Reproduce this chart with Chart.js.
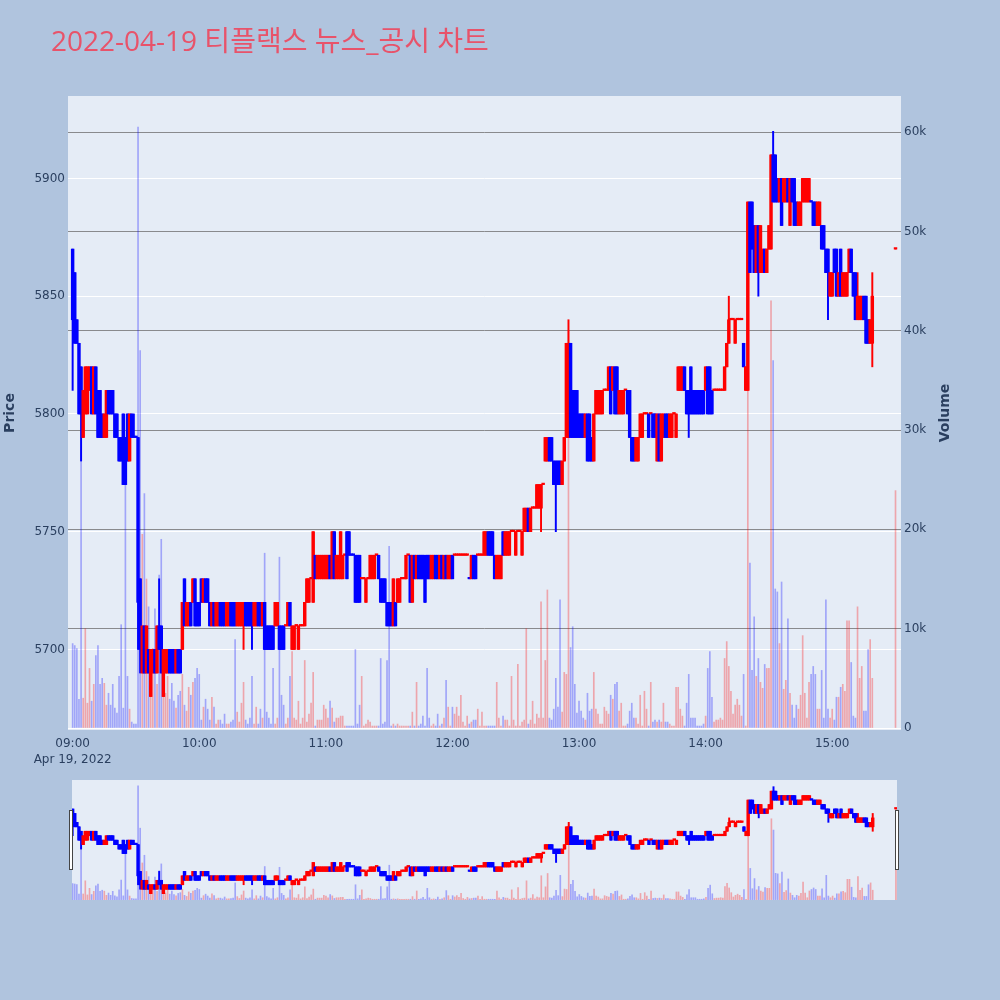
<!DOCTYPE html>
<html>
<head>
<meta charset="utf-8">
<title>티플랙스 뉴스_공시 차트</title>
<script src="https://cdn.jsdelivr.net/npm/chart.js@4.4.1/dist/chart.umd.min.js"></script>
<style>
  html, body { margin: 0; padding: 0; }
  body { width: 1000px; height: 1000px; background: #b0c4de; position: relative; overflow: hidden; }
  #mainChart { position: absolute; left: 0; top: 0; }
  #sliderChart { position: absolute; left: 72px; top: 780px; }
  .grip { position: absolute; top: 810px; width: 2px; height: 58px; background: #fff; border: 1px solid #444; }
</style>
</head>
<body>
<canvas id="mainChart" width="1000" height="770"></canvas>
<canvas id="sliderChart" width="825" height="120"></canvas>
<div class="grip" style="left:69px"></div>
<div class="grip" style="left:895px"></div>
<script>
const titleText = '2022-04-19 티플랙스 뉴스_공시 차트';
const dateLabel = 'Apr 19, 2022';
const tickMinutes = [0, 60, 120, 180, 240, 300, 360];
const timeLabels = ['09:00', '10:00', '11:00', '12:00', '13:00', '14:00', '15:00'];
const priceTicks = [5700, 5750, 5800, 5850, 5900];
const volumeTicks = [0, 10000, 20000, 30000, 40000, 50000, 60000];
const volumeLabels = ['0', '10k', '20k', '30k', '40k', '50k', '60k'];

// one entry per minute from 09:00; 15:20-15:29 no trades, last entry = 15:30 close
const opens = [
  5870,5860,5840,5830,5820,5790,5800,5800,5810,5820,
  5800,5820,5810,5810,5800,5790,5790,5810,5810,5810,
  5800,5800,5790,5790,5800,5790,5800,5780,5800,5790,
  5790,5790,5730,5690,5710,5690,5700,5680,5690,5700,
  5690,5710,5710,5680,5690,5690,5700,5700,5700,5690,
  5700,5700,5700,5730,5710,5710,5720,5720,5730,5720,
  5720,5730,5720,5730,5730,5720,5710,5720,5710,5710,
  5720,5720,5720,5710,5710,5720,5720,5720,5710,5710,
  5710,5710,5720,5720,5720,5720,5710,5710,5720,5720,
  5710,5720,5710,5710,5710,5710,5710,5710,5710,5710,
  5710,5710,5710,5720,5700,5700,5710,5700,5710,5710,
  5710,5720,5720,5730,5720,5740,5730,5730,5730,5730,
  5730,5730,5740,5730,5750,5730,5730,5730,5730,5740,
  5750,5750,5740,5740,5740,5740,5740,5730,5730,5720,
  5730,5730,5730,5730,5740,5740,5730,5730,5730,5720,
  5720,5720,5710,5720,5720,5720,5730,5730,5730,5740,
  5740,5720,5740,5730,5740,5740,5740,5740,5740,5740,
  5730,5730,5740,5740,5730,5740,5730,5740,5730,5730,
  5740,5740,5740,5740,5740,5740,5740,5740,5730,5730,
  5740,5740,5740,5740,5740,5740,5740,5750,5750,5750,
  5740,5730,5730,5730,5750,5740,5740,5740,5750,5750,
  5740,5750,5750,5740,5750,5750,5760,5750,5760,5760,
  5760,5760,5760,5770,5780,5780,5790,5790,5780,5780,
  5780,5780,5770,5780,5790,5790,5830,5810,5810,5810,
  5800,5800,5800,5790,5800,5800,5790,5780,5800,5800,
  5800,5800,5810,5810,5810,5820,5810,5820,5820,5800,
  5800,5800,5810,5810,5810,5790,5790,5780,5780,5790,
  5790,5800,5800,5800,5800,5800,5800,5780,5800,5780,
  5790,5800,5800,5790,5790,5800,5790,5810,5810,5810,
  5820,5810,5810,5820,5810,5810,5810,5810,5810,5810,
  5810,5820,5820,5810,5810,5810,5810,5810,5810,5810,
  5820,5830,5840,5840,5830,5840,5840,5840,5830,5810,
  5810,5890,5890,5880,5860,5880,5860,5860,5870,5860,
  5870,5870,5910,5910,5900,5890,5900,5890,5890,5900,
  5880,5900,5900,5890,5880,5880,5890,5890,5890,5890,
  5890,5890,5890,5880,5880,5880,5880,5870,5870,5850,
  5850,5870,5870,5850,5870,5850,5850,5850,5860,5870,
  5860,5860,5840,5840,5840,5850,5850,5840,5830,5830,
  null,null,null,null,null,null,null,null,null,null,
  5870
];
const highs = [
  5870,5860,5840,5830,5820,5810,5820,5820,5820,5820,
  5820,5820,5810,5810,5800,5800,5810,5810,5810,5810,
  5800,5800,5790,5790,5800,5790,5800,5800,5800,5800,
  5790,5790,5730,5710,5710,5710,5700,5700,5700,5700,
  5710,5730,5710,5700,5700,5700,5700,5700,5700,5700,
  5700,5700,5720,5730,5720,5720,5720,5730,5730,5720,
  5720,5730,5730,5730,5730,5720,5720,5720,5720,5720,
  5720,5720,5720,5720,5720,5720,5720,5720,5720,5720,
  5720,5720,5720,5720,5720,5720,5720,5720,5720,5720,
  5720,5720,5710,5710,5710,5710,5720,5720,5710,5710,
  5710,5710,5720,5720,5710,5710,5710,5710,5710,5710,
  5720,5730,5730,5730,5750,5740,5740,5740,5740,5740,
  5740,5740,5740,5750,5750,5740,5740,5750,5740,5740,
  5750,5750,5740,5740,5740,5740,5740,5730,5730,5730,
  5730,5740,5740,5740,5740,5740,5730,5730,5730,5720,
  5720,5720,5730,5720,5730,5730,5730,5730,5740,5740,
  5740,5740,5740,5740,5740,5740,5740,5740,5740,5740,
  5740,5740,5740,5740,5740,5740,5740,5740,5740,5740,
  5740,5740,5740,5740,5740,5740,5740,5740,5730,5740,
  5740,5740,5740,5740,5740,5750,5750,5750,5750,5750,
  5740,5740,5740,5740,5750,5750,5750,5750,5750,5750,
  5750,5750,5750,5750,5760,5760,5760,5760,5760,5760,
  5770,5770,5770,5770,5790,5790,5790,5790,5780,5780,
  5780,5780,5780,5790,5830,5840,5830,5810,5810,5810,
  5800,5800,5800,5800,5800,5800,5790,5800,5810,5810,
  5810,5810,5810,5810,5820,5820,5820,5820,5820,5810,
  5810,5810,5810,5810,5810,5790,5790,5790,5790,5800,
  5800,5800,5800,5800,5800,5800,5800,5800,5800,5800,
  5800,5800,5800,5800,5800,5800,5800,5820,5820,5820,
  5820,5810,5810,5820,5810,5810,5810,5810,5810,5810,
  5820,5820,5820,5810,5810,5810,5810,5810,5810,5820,
  5830,5850,5840,5840,5840,5840,5840,5840,5830,5820,
  5890,5890,5890,5880,5880,5880,5880,5870,5870,5870,
  5880,5910,5920,5910,5900,5900,5900,5900,5900,5900,
  5900,5900,5900,5890,5890,5890,5900,5900,5900,5900,
  5890,5890,5890,5890,5890,5880,5880,5870,5870,5860,
  5860,5870,5870,5860,5870,5860,5860,5860,5870,5870,
  5860,5860,5860,5850,5850,5850,5850,5840,5840,5860,
  null,null,null,null,null,null,null,null,null,null,
  5870
];
const lows = [
  5810,5830,5830,5800,5780,5790,5800,5800,5810,5800,
  5800,5800,5790,5790,5790,5790,5790,5800,5800,5800,
  5790,5790,5780,5780,5770,5770,5780,5780,5790,5790,
  5790,5700,5690,5690,5690,5690,5690,5680,5690,5690,
  5690,5700,5690,5680,5690,5690,5690,5690,5690,5690,
  5690,5690,5700,5710,5710,5710,5710,5720,5710,5710,
  5710,5720,5720,5720,5720,5710,5710,5710,5710,5710,
  5710,5710,5710,5710,5710,5710,5710,5710,5710,5710,
  5710,5700,5710,5710,5710,5700,5710,5710,5710,5710,
  5710,5700,5700,5700,5700,5700,5710,5710,5700,5700,
  5700,5710,5710,5710,5700,5700,5710,5700,5710,5710,
  5710,5720,5720,5730,5720,5730,5730,5730,5730,5730,
  5730,5730,5730,5730,5730,5730,5730,5730,5730,5740,
  5730,5740,5740,5740,5720,5720,5720,5730,5730,5720,
  5730,5730,5730,5730,5740,5730,5720,5720,5720,5710,
  5710,5710,5710,5710,5720,5720,5730,5730,5730,5740,
  5720,5720,5730,5730,5730,5730,5730,5720,5730,5730,
  5730,5730,5730,5730,5730,5730,5730,5730,5730,5730,
  5730,5740,5740,5740,5740,5740,5740,5740,5730,5730,
  5730,5730,5740,5740,5740,5740,5740,5740,5740,5740,
  5730,5730,5730,5730,5740,5740,5740,5740,5750,5750,
  5740,5750,5750,5740,5750,5750,5750,5750,5760,5760,
  5760,5760,5750,5770,5780,5780,5780,5780,5770,5750,
  5770,5770,5770,5780,5790,5790,5790,5790,5790,5790,
  5790,5790,5790,5790,5780,5780,5780,5780,5800,5800,
  5800,5800,5810,5810,5810,5800,5810,5800,5800,5800,
  5800,5800,5810,5800,5790,5780,5780,5780,5780,5790,
  5790,5800,5800,5790,5800,5790,5790,5780,5780,5780,
  5790,5790,5790,5790,5790,5800,5790,5810,5810,5810,
  5810,5800,5790,5800,5800,5800,5800,5800,5800,5800,
  5810,5800,5800,5800,5810,5810,5810,5810,5810,5810,
  5820,5830,5840,5840,5830,5840,5840,5840,5820,5810,
  5810,5860,5870,5860,5860,5850,5860,5860,5860,5860,
  5870,5870,5890,5890,5890,5890,5880,5890,5890,5890,
  5880,5890,5880,5880,5880,5880,5890,5890,5890,5890,
  5890,5880,5880,5880,5880,5870,5870,5860,5840,5850,
  5850,5860,5850,5850,5850,5850,5850,5850,5860,5860,
  5850,5840,5840,5840,5840,5840,5830,5830,5830,5820,
  null,null,null,null,null,null,null,null,null,null,
  5870
];
const closes = [
  5840,5830,5830,5800,5800,5810,5820,5820,5820,5800,
  5820,5800,5790,5790,5790,5800,5810,5800,5800,5800,
  5790,5790,5780,5780,5770,5770,5780,5800,5790,5790,
  5790,5720,5700,5710,5690,5710,5690,5700,5700,5690,
  5710,5700,5690,5700,5700,5700,5690,5690,5690,5700,
  5690,5690,5720,5710,5720,5720,5710,5730,5710,5710,
  5710,5720,5730,5720,5720,5710,5720,5710,5720,5720,
  5710,5710,5710,5720,5720,5710,5710,5710,5720,5720,
  5720,5720,5710,5710,5710,5710,5720,5720,5710,5710,
  5720,5700,5700,5700,5700,5700,5720,5720,5700,5700,
  5700,5710,5720,5710,5710,5710,5710,5710,5710,5710,
  5720,5730,5730,5730,5750,5730,5740,5740,5740,5740,
  5740,5740,5730,5750,5730,5740,5740,5750,5740,5740,
  5730,5740,5740,5740,5720,5720,5720,5730,5730,5730,
  5730,5740,5740,5740,5740,5730,5720,5720,5720,5710,
  5710,5710,5730,5710,5730,5730,5730,5730,5740,5740,
  5720,5740,5730,5740,5730,5730,5730,5720,5730,5730,
  5740,5740,5730,5730,5740,5730,5740,5730,5740,5740,
  5730,5740,5740,5740,5740,5740,5740,5740,5730,5740,
  5730,5730,5740,5740,5740,5750,5750,5740,5740,5740,
  5730,5740,5740,5740,5740,5750,5750,5750,5750,5750,
  5750,5750,5750,5750,5760,5760,5750,5760,5760,5760,
  5770,5770,5770,5770,5790,5790,5780,5780,5770,5770,
  5770,5770,5780,5790,5830,5830,5790,5790,5790,5790,
  5790,5790,5790,5800,5780,5780,5780,5800,5810,5810,
  5810,5810,5810,5810,5820,5800,5820,5800,5800,5810,
  5810,5810,5810,5800,5790,5780,5780,5790,5790,5800,
  5800,5800,5800,5790,5800,5790,5790,5800,5780,5800,
  5800,5790,5790,5800,5800,5800,5800,5820,5820,5820,
  5810,5800,5800,5800,5800,5800,5800,5800,5800,5800,
  5820,5800,5800,5800,5810,5810,5810,5810,5810,5820,
  5830,5840,5840,5840,5840,5840,5840,5840,5820,5820,
  5890,5860,5870,5860,5880,5860,5880,5870,5860,5870,
  5880,5910,5890,5890,5890,5900,5880,5900,5900,5890,
  5900,5890,5880,5880,5890,5890,5900,5900,5900,5900,
  5890,5880,5880,5890,5890,5870,5870,5860,5860,5860,
  5860,5860,5850,5860,5850,5860,5860,5860,5870,5860,
  5850,5840,5850,5850,5850,5840,5830,5830,5840,5850,
  null,null,null,null,null,null,null,null,null,null,
  5870
];
const volumes = [
  8500,8300,8000,2900,28000,3000,10000,2500,6000,2700,
  4400,7300,8300,4400,5000,4500,2300,3500,2300,4400,
  2000,1500,5200,10400,2000,25000,5200,1900,600,400,
  400,60500,38000,19500,23600,15000,12200,5800,8000,12000,
  4400,15400,19000,4800,3500,5200,2900,4500,2700,2000,
  3300,3700,5400,2300,1700,4100,3300,4600,5000,6000,
  5400,800,2100,2900,1900,800,3100,2100,400,800,
  800,400,1400,400,400,600,800,8900,1600,600,
  2500,4600,800,400,1000,5200,400,2100,400,1900,
  1000,17600,1600,1000,400,6000,400,1000,17200,3300,
  2300,400,1000,5200,7700,1000,800,2700,400,1000,
  6800,600,1400,2500,5600,200,800,800,800,2300,
  1900,1000,2700,2000,600,1000,1000,1200,1200,200,
  200,200,200,200,7900,400,2300,5200,200,400,
  800,600,200,200,200,200,7000,400,600,6800,
  18300,200,400,200,400,200,200,200,200,200,
  200,1600,200,4600,200,400,1200,200,6000,1000,
  200,400,200,1400,200,400,1000,4800,2100,200,
  2100,1400,2100,1200,3300,600,200,1200,400,600,
  800,800,1900,200,1600,200,200,200,200,200,
  200,4600,1000,200,1200,800,800,200,5200,800,
  200,6400,200,600,800,10000,400,800,2700,400,
  1400,1000,12700,1000,6800,13900,1000,800,1900,5000,
  2100,12900,1600,5600,5400,40000,8100,10200,4400,1500,
  2700,1700,1000,800,3500,1700,1900,5600,1900,1400,
  400,400,2100,1700,1400,3300,2900,4400,4600,1700,
  2500,200,200,400,1700,2500,1000,1000,400,3300,
  200,3700,1900,200,4600,600,800,600,800,600,
  2500,600,600,400,200,200,4100,4100,1900,1200,
  200,2500,5400,1000,1000,1000,200,200,200,400,
  1200,6000,7700,3100,600,800,800,1000,800,7000,
  8700,6200,3700,1400,2300,2900,2300,1200,5400,200,
  43000,16600,5800,11200,5200,7000,4600,4000,6400,6000,
  6000,43000,37000,14000,13700,8500,14700,3900,4800,11000,
  3500,2300,1000,2300,1900,3300,9300,3500,1000,4600,
  5400,6200,5400,1900,1900,5800,1000,12900,1900,1000,
  1900,800,3100,3100,4100,4400,3700,10800,10800,6600,
  1200,1000,12200,5000,6200,1700,1700,7900,8900,5000,
  null,null,null,null,null,null,null,null,null,null,
  23900
];

const UP = '#ff0000', DOWN = '#0000ff';
const UP_VOL = 'rgba(255,0,0,0.3)', DOWN_VOL = 'rgba(0,0,255,0.3)';

// direction like plotly: a flat candle is compared with the previous close
const rising = [];
let inc = true, prevClose = null;
closes.forEach((c, i) => {
  if (c === null) { rising.push(null); return; }
  if (c === opens[i]) {
    if (prevClose !== null && c !== prevClose) inc = c > prevClose;
  } else {
    inc = c > opens[i];
  }
  prevClose = c;
  rising.push(inc);
});

const traded = closes.map((c, i) => i).filter(i => closes[i] !== null);

function candleSets(bodyW, wickW, volW) {
  const pick = (up, down) => c => (c.raw && c.raw.up ? up : down);
  return [
    { label: 'body', order: 0, grouped: false, barThickness: bodyW, minBarLength: 1.5,
      data: traded.map(i => ({ x: i, y: [opens[i], closes[i]], up: rising[i] })),
      backgroundColor: pick(UP, DOWN) },
    { label: 'wick', order: 1, grouped: false, barThickness: wickW,
      data: traded.map(i => ({ x: i, y: [lows[i], highs[i]], up: rising[i] })),
      backgroundColor: pick(UP, DOWN) },
    { label: 'volume', order: 2, grouped: false, barThickness: volW, yAxisID: 'yv',
      data: traded.map(i => ({ x: i, y: volumes[i], up: rising[i] })),
      backgroundColor: pick(UP_VOL, DOWN_VOL) }
  ];
}

const plotBg = {
  id: 'plotBg',
  beforeDraw(chart) {
    const { ctx, chartArea: a } = chart;
    ctx.save();
    ctx.fillStyle = '#e5ecf6';
    ctx.fillRect(a.left, a.top, a.right - a.left, a.bottom - a.top);
    ctx.restore();
  }
};

const texts = {
  id: 'texts',
  afterDraw(chart) {
    const ctx = chart.ctx;
    ctx.save();
    ctx.fillStyle = '#e8536a';
    ctx.font = '28px "Open Sans", "Noto Sans CJK KR", sans-serif';
    ctx.textAlign = 'left';
    ctx.textBaseline = 'alphabetic';
    ctx.fillText(titleText, 51, 51);
    ctx.fillStyle = '#2a3f5f';
    ctx.font = 'bold 14px "DejaVu Sans", sans-serif';
    ctx.textAlign = 'center';
    ctx.textBaseline = 'middle';
    [['Price', 10], ['Volume', 945]].forEach(([t, x]) => {
      ctx.save();
      ctx.translate(x, 413);
      ctx.rotate(-Math.PI / 2);
      ctx.fillText(t, 0, 0);
      ctx.restore();
    });
    ctx.restore();
  }
};

const tickFont = { family: '"DejaVu Sans", sans-serif', size: 12 };

new Chart(document.getElementById('mainChart'), {
  type: 'bar',
  data: { datasets: candleSets(2.8, 1.3, 1) },
  options: {
    responsive: false,
    animation: false,
    events: [],
    layout: { padding: { top: 96 } },
    plugins: { legend: { display: false }, tooltip: { enabled: false } },
    scales: {
      x: {
        type: 'linear', min: -2.2, max: 392.6, offset: false,
        grid: { display: false }, border: { display: false },
        afterBuildTicks: s => { s.ticks = tickMinutes.map(v => ({ value: v })); },
        afterFit: s => { s.height = 40; },
        ticks: {
          color: '#2a3f5f', font: { ...tickFont, lineHeight: 1.34 }, padding: -2,
          maxRotation: 0, autoSkip: false,
          callback: (v, i) => (i === 0 ? [timeLabels[0], dateLabel] : timeLabels[i])
        }
      },
      y: {
        position: 'left', min: 5665.8, max: 5935,
        grid: { color: '#ffffff', drawTicks: false }, border: { display: false },
        afterBuildTicks: s => { s.ticks = priceTicks.map(v => ({ value: v })); },
        afterFit: s => { s.width = 68; },
        ticks: { color: '#2a3f5f', font: tickFont, padding: 3, callback: v => String(v) }
      },
      yv: {
        position: 'right', min: -200, max: 63630,
        grid: {
          color: c => (c.tick && c.tick.value === 0 ? '#ffffff' : 'rgba(105,105,105,0.75)'),
          drawTicks: false
        },
        border: { display: false },
        afterBuildTicks: s => { s.ticks = volumeTicks.map(v => ({ value: v })); },
        afterFit: s => { s.width = 99; },
        ticks: { color: '#2a3f5f', font: tickFont, padding: 3, callback: (v, i) => volumeLabels[i] }
      }
    }
  },
  plugins: [plotBg, texts]
});

new Chart(document.getElementById('sliderChart'), {
  type: 'bar',
  data: { datasets: candleSets(2.8, 1.3, 1) },
  options: {
    responsive: false,
    animation: false,
    events: [],
    layout: { padding: 0 },
    plugins: { legend: { display: false }, tooltip: { enabled: false } },
    scales: {
      x: { type: 'linear', display: false, min: -0.3, max: 390.5, offset: false },
      y: { display: false, min: 5665.8, max: 5935 },
      yv: { display: false, position: 'right', min: -200, max: 63630 }
    }
  },
  plugins: [plotBg]
});
</script>
</body>
</html>
